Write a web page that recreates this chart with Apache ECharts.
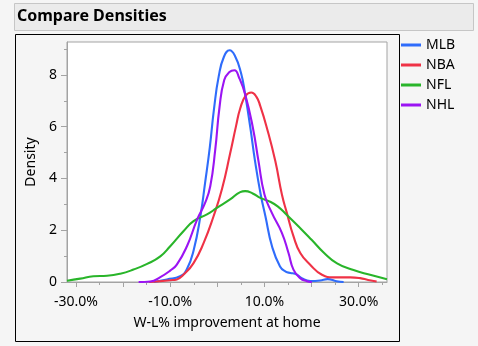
<!DOCTYPE html>
<html><head><meta charset="utf-8">
<script src="https://cdn.jsdelivr.net/npm/echarts@6/dist/echarts.min.js"></script>
<style>html,body{margin:0;padding:0;background:#f5f5f5;}#c{width:478px;height:346px;}</style>
</head><body><div id="c"></div>
<script>
const seriesNames = ['MLB', 'NBA', 'NFL', 'NHL'];
const seriesColors = ['#2f6cfb', '#ef3246', '#29b52a', '#9b14f3'];

const mlbX = [-13.5, -10.7, -7.9, -6.5, -5.0, -3.6, -2.6, -1.6, -0.7, 0.3, 1.4, 2.6, 3.7, 5.0, 5.9, 7.0, 8.0, 9.2, 10.2, 11.6, 13.3, 14.5, 15.5, 16.5, 17.9, 19.7, 21.8, 23.4, 25.3, 26.8];
const mlbY = [0, 0.1, 0.22, 0.48, 1.25, 2.54, 3.83, 5.2, 6.7, 7.95, 8.7, 8.95, 8.75, 8.09, 7.25, 5.96, 4.67, 3.38, 2.54, 1.38, 0.6, 0.4, 0.35, 0.32, 0.15, 0.04, 0.06, 0.11, 0.03, 0];

const nbaX = [-14.5, -10.0, -8.6, -7.2, -5.05, -2.9, -0.8, 1.0, 2.7, 4.0, 4.85, 6.0, 7.2, 8.3, 9.1, 10.5, 12.3, 13.7, 14.75, 16.15, 17.6, 19.7, 22.2, 24.6, 28.2, 30.3, 32.0, 33.8];
const nbaY = [0, 0.07, 0.1, 0.28, 0.73, 1.51, 2.54, 3.6, 4.95, 6.05, 6.7, 7.2, 7.32, 7.15, 6.8, 5.96, 4.67, 3.38, 2.67, 1.77, 1.12, 0.67, 0.28, 0.18, 0.18, 0.15, 0.08, 0.02];

const nflX = [-31.9, -29.1, -26.3, -23.4, -20.6, -17.8, -14.9, -12.1, -10.0, -7.2, -5.05, -2.2, -0.1, 2.7, 4.85, 5.9, 7.5, 9.1, 11.2, 12.8, 14.7, 17.6, 20.05, 22.5, 25.4, 28.9, 32.4, 36.0];
const nflY = [0.05, 0.13, 0.22, 0.24, 0.32, 0.48, 0.70, 0.99, 1.38, 1.96, 2.35, 2.61, 2.86, 3.19, 3.47, 3.51, 3.42, 3.25, 3.1, 2.92, 2.6, 2.08, 1.62, 1.15, 0.72, 0.46, 0.28, 0.11];

const nhlX = [-16.7, -14.2, -12.1, -10.0, -8.6, -6.45, -4.3, -2.6, -1.5, -0.45, 0.46, 1.46, 2.5, 3.64, 4.6, 5.9, 7.54, 8.73, 10.0, 11.57, 13.69, 15.1, 16.15, 17.57, 19.0, 20.05];
const nhlY = [0, 0.02, 0.19, 0.44, 0.67, 1.38, 2.41, 3.06, 3.7, 5.1, 6.75, 7.8, 8.1, 8.18, 7.9, 7.25, 5.96, 4.67, 3.38, 2.67, 1.9, 1.12, 0.48, 0.15, 0.03, 0];

const xMajorTicks = [-30, -20, -10, 0, 10, 20, 30];
const xMinorTicks = [-25, -15, -5, 5, 15, 25, 35];
const xTickLabels = [-30, -10, 10, 30];
const yMajorTicks = [0, 2, 4, 6, 8];
const yMinorTicks = [1, 3, 5, 7, 9];
const xRange = [-31.9, 36.0];
const yRange = [0, 9.27];

const xs = [mlbX, nbaX, nflX, nhlX];
const ys = [mlbY, nbaY, nflY, nhlY];

const FONT = "'Noto Sans', 'Open Sans', sans-serif";
const chart = echarts.init(document.getElementById('c'), null, {renderer: 'canvas'});

const gridBox = {left: 67, top: 42, width: 320, height: 240};

const option = {
  backgroundColor: '#f5f5f5',
  animation: false,
  textStyle: {fontFamily: FONT},
  graphic: [
    {type: 'rect', shape: {x: 14.5, y: 3.5, width: 459, height: 27}, style: {fill: '#ebebeb', stroke: '#c6c6c6', lineWidth: 1}, z: -1},
    {type: 'text', left: 17, top: 8, style: {text: 'Compare Densities', font: "bold 16px " + FONT, fill: '#000'}},
    {type: 'rect', shape: {x: 15.5, y: 34.5, width: 384, height: 307}, style: {fill: 'none', stroke: '#000', lineWidth: 1}, z: -1}
  ],
  legend: {
    data: seriesNames,
    orient: 'vertical',
    left: 401, top: 38,
    padding: 0,
    itemGap: 6,
    itemWidth: 20, itemHeight: 3,
    icon: 'rect',
    textStyle: {fontSize: 14, color: '#000', fontFamily: FONT}
  },
  grid: Object.assign({show: true, backgroundColor: '#fff', borderColor: '#a3a3a3', borderWidth: 1}, gridBox),
  xAxis: [
    {
      type: 'value', min: xRange[0], max: xRange[1],
      name: 'W-L% improvement at home', nameLocation: 'middle', nameGap: 34,
      nameTextStyle: {fontSize: 14, color: '#000', fontFamily: FONT},
      axisLine: {show: true, onZero: false, lineStyle: {color: '#a3a3a3'}},
      axisTick: {show: true, length: 5, lineStyle: {color: '#a3a3a3'}, customValues: xMajorTicks},
      axisLabel: {show: true, margin: 13, fontSize: 14, color: '#000', fontFamily: FONT, customValues: xTickLabels,
        formatter: v => v.toFixed(1) + '%'},
      splitLine: {show: false}
    },
    {
      type: 'value', min: xRange[0], max: xRange[1], position: 'bottom',
      axisLine: {show: false, onZero: false},
      axisTick: {show: true, length: 3, lineStyle: {color: '#a3a3a3'}, customValues: xMinorTicks},
      axisLabel: {show: false},
      splitLine: {show: false}
    }
  ],
  yAxis: [
    {
      type: 'value', min: yRange[0], max: yRange[1],
      name: 'Density', nameLocation: 'middle', nameGap: 28,
      nameTextStyle: {fontSize: 14, color: '#000', fontFamily: FONT},
      axisLine: {show: true, onZero: false, lineStyle: {color: '#a3a3a3'}},
      axisTick: {show: true, length: 6, lineStyle: {color: '#a3a3a3'}, customValues: yMajorTicks},
      axisLabel: {show: true, margin: 10, fontSize: 14, color: '#000', fontFamily: FONT, customValues: yMajorTicks},
      splitLine: {show: false}
    },
    {
      type: 'value', min: yRange[0], max: yRange[1], position: 'left',
      axisLine: {show: false, onZero: false},
      axisTick: {show: true, length: 3, lineStyle: {color: '#a3a3a3'}, customValues: yMinorTicks},
      axisLabel: {show: false},
      splitLine: {show: false}
    }
  ],
  series: seriesNames.map((name, i) => ({
    name: name,
    type: 'line',
    xAxisIndex: 0, yAxisIndex: 0,
    data: xs[i].map((x, j) => [x, ys[i][j]]),
    smooth: 0.5,
    symbol: 'none',
    clip: true,
    lineStyle: {width: 2.1, color: seriesColors[i]},
    itemStyle: {color: seriesColors[i]}
  }))
};
chart.setOption(option);
</script></body></html>
